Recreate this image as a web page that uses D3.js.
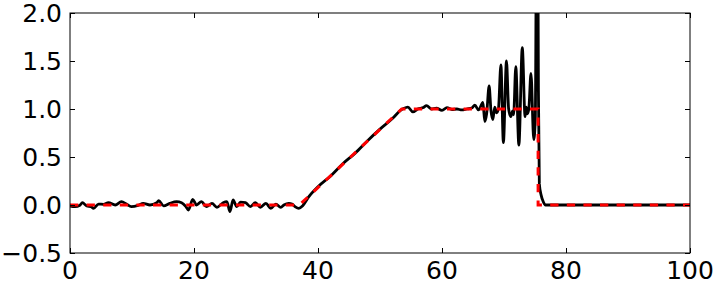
<!DOCTYPE html>
<html>
<head>
<meta charset="utf-8">
<script src="https://cdn.jsdelivr.net/npm/d3@7"></script>
<style>
  body { margin: 0; background: #fff; }
  svg { display: block; font-family: "DejaVu Sans", sans-serif; }
</style>
</head>
<body>
<svg width="715" height="281"></svg>
<script>
var signalX = [0, 0.8, 1.6, 2.0, 2.7, 3.4, 3.8, 4.6, 5.4, 6.2, 7.3, 8.3, 9.1, 9.9, 11, 11.8, 12.9, 14, 14.3, 15.1,
  16.1, 17.2, 18, 18.7, 19.1, 19.8, 20.4, 21.2, 22, 22.9, 23.7, 24.7, 25.3, 25.8, 26.3, 26.9, 27.5, 28.3, 29.1, 29.9,
  30.7, 31.6, 32.4, 33.2, 34, 34.5, 35.3, 35.8, 36.3, 36.9, 37.5,
  38.5, 40, 42, 44, 46, 48, 50, 52, 53.3, 53.8, 54.5, 55.3, 56.1, 57, 57.5, 58.3, 59.1, 60, 60.8, 61.6, 62.4, 63.2, 64, 64.8,
  65.3, 65.9, 66.6, 66.9, 67.2, 67.6, 67.9, 68.2, 68.5, 68.8, 69.1, 69.5, 69.9, 70.4, 70.75, 71.1, 71.4, 71.55, 71.9, 72.4,
  72.95, 73.4, 73.6, 73.75, 74.0, 74.35, 74.8, 75.05, 75.35, 75.55, 75.7, 76.0, 76.3, 76.7, 80, 100];
var signalY = [-0.01, -0.017, -0.003, 0.024, -0.01, -0.017, -0.035, 0.01, 0.007, 0.024, 0, 0.035, 0.01, -0.017, -0.003, 0.017, 0, 0.024, 0.045, -0.01,
  0.017, 0.035, 0.024, -0.017, -0.052, 0.059, 0, 0.035, -0.017, 0.017, -0.024, 0.024, 0.035, -0.069, 0.052, -0.017, 0.03, 0.024, -0.017, 0.024,
  -0.024, 0.017, -0.035, 0.01, -0.024, 0, 0.017, 0.01, -0.017, -0.035, -0.01,
  0.085, 0.19, 0.3, 0.43, 0.54, 0.67, 0.79, 0.9, 0.985, 1.005, 1.02, 0.97, 1.0, 1.015, 1.035, 1.0, 1.01, 0.985, 1.015, 0.995, 1.0, 0.99, 1.0, 1.01,
  1.04, 0.99, 1.07, 0.87, 0.95, 1.24, 0.98, 0.89, 1.02, 0.96, 1.0, 1.46, 0.65, 1.5, 1.0, 0.92, 0.98, 0.94, 1.44, 0.625,
  1.64, 0.92, 1.02, 0.95, 1.0, 1.37, 0.68, 0.9, 4.5, 1.2, 0.22, 0.1, 0.04, 0.0, 0, 0];

// reference profile (red dashed)
var refX = [0, 37, 53.5, 75.5, 75.5, 100];
var refY = [0, 0, 1, 1, 0, 0];

var xTicks = [0, 20, 40, 60, 80, 100];
var yTicks = [-0.5, 0, 0.5, 1.0, 1.5, 2.0];

var svg = d3.select("svg");
var margin = {top: 13, right: 25, bottom: 28, left: 70};
var width = 715 - margin.left - margin.right;
var height = 281 - margin.top - margin.bottom;
var g = svg.append("g").attr("transform", "translate(" + margin.left + "," + margin.top + ")");

var x = d3.scaleLinear().domain([0, 100]).range([0, width]);
var y = d3.scaleLinear().domain([-0.5, 2.0]).range([height, 0]);

g.append("clipPath").attr("id", "plotclip")
  .append("rect").attr("width", width).attr("height", height);

var line = d3.line()
  .x(function(d) { return x(d[0]); })
  .y(function(d) { return y(d[1]); });

var signal = signalX.map(function(v, i) { return [v, signalY[i]]; });
var ref = refX.map(function(v, i) { return [v, refY[i]]; });

var plot = g.append("g").attr("clip-path", "url(#plotclip)");

plot.append("path")
  .datum(signal)
  .attr("fill", "none")
  .attr("stroke", "#000")
  .attr("stroke-width", 2.8)
  .attr("stroke-linejoin", "round")
  .attr("d", line.curve(d3.curveMonotoneX));

plot.append("path")
  .datum(ref)
  .attr("fill", "none")
  .attr("stroke", "#ff0000")
  .attr("stroke-width", 3)
  .attr("stroke-dasharray", "8.3,8.3")
  .attr("d", line.curve(d3.curveLinear));

// ticks inward on all four sides
function styleAxis(sel) {
  sel.select(".domain").remove();
  sel.selectAll("line").attr("stroke", "#000").attr("stroke-width", 1);
  sel.selectAll("text").remove();
}
g.append("g").attr("transform", "translate(0," + height + ")")
  .call(d3.axisTop(x).tickValues(xTicks).tickSize(5)).call(styleAxis);
g.append("g")
  .call(d3.axisBottom(x).tickValues(xTicks).tickSize(5)).call(styleAxis);
g.append("g")
  .call(d3.axisRight(y).tickValues(yTicks).tickSize(5)).call(styleAxis);
g.append("g").attr("transform", "translate(" + width + ",0)")
  .call(d3.axisLeft(y).tickValues(yTicks).tickSize(5)).call(styleAxis);

g.append("rect")
  .attr("width", width).attr("height", height)
  .attr("fill", "none").attr("stroke", "#000").attr("stroke-width", 1);

var fmt = d3.format(".1f");
g.selectAll(".ylab").data(yTicks).enter().append("text")
  .attr("x", -8)
  .attr("y", function(d) { return y(d) + 9; })
  .attr("text-anchor", "end")
  .attr("font-size", 25)
  .text(function(d) { return fmt(d); });

g.selectAll(".xlab").data(xTicks).enter().append("text")
  .attr("x", function(d) { return x(d); })
  .attr("y", height + 25.5)
  .attr("text-anchor", "middle")
  .attr("font-size", 25)
  .text(function(d) { return d; });
</script>
</body>
</html>
